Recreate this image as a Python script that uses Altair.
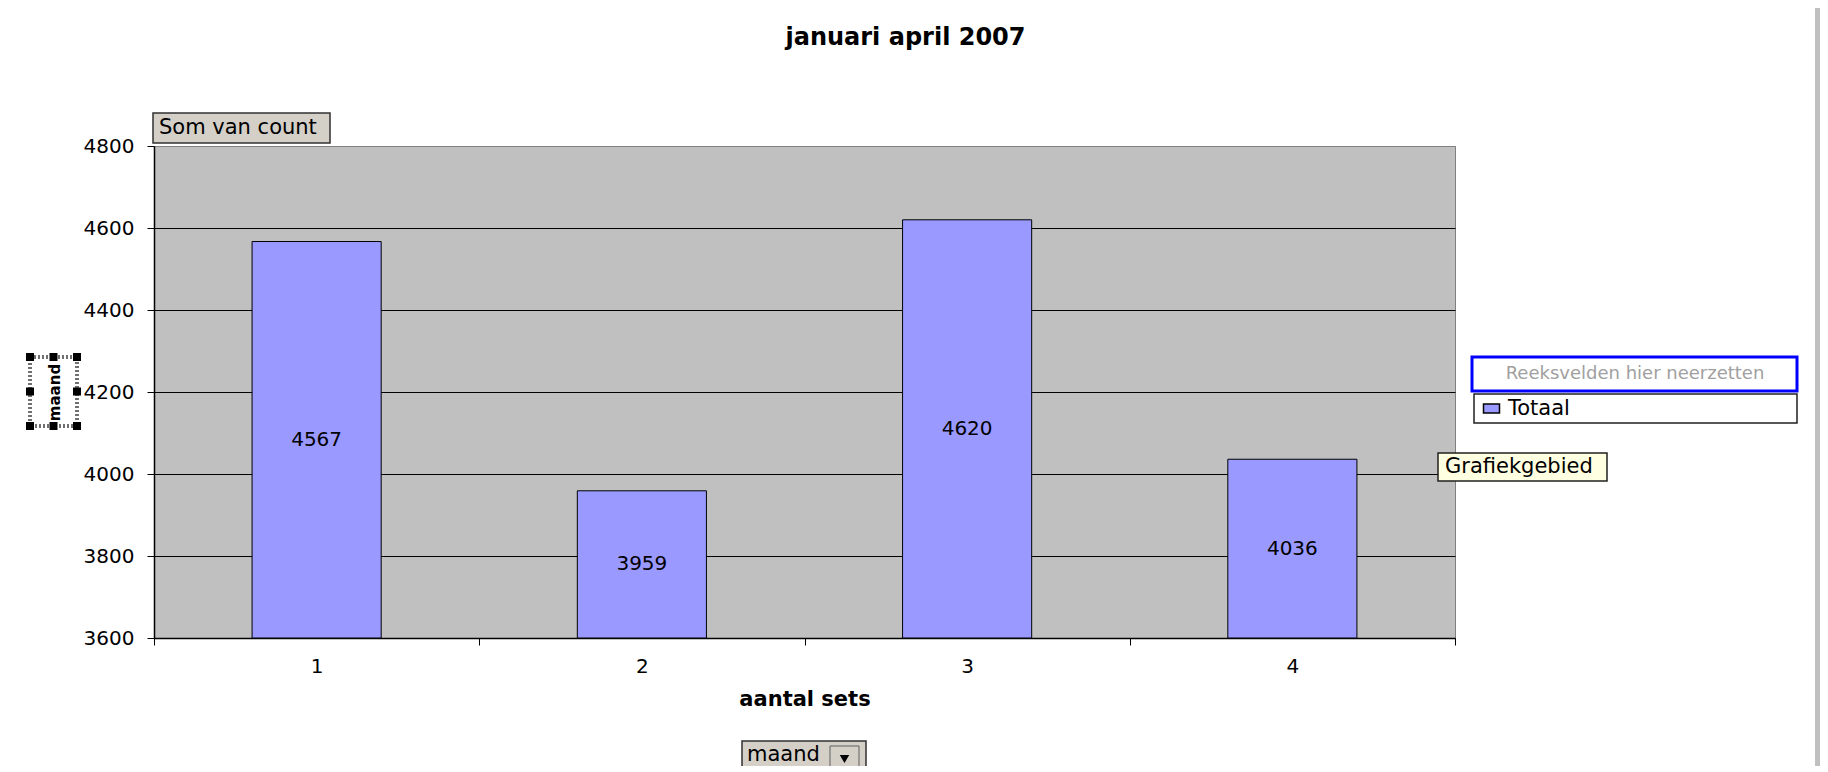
import altair as alt
import pandas as pd

# ---- data ----
categories = ["1", "2", "3", "4"]
counts = [4567, 3959, 4620, 4036]
series_name = ["Totaal", "Totaal", "Totaal", "Totaal"]
y_ticks = [3600, 3800, 4000, 4200, 4400, 4600, 4800]
y_base = 3600
y_top = 4800

title_text = "januari april 2007"
x_title = "aantal sets"
y_title = "maand"
data_button_text = "Som van count"
series_drop_text = "Reeksvelden hier neerzetten"
tooltip_text = "Grafiekgebied"
dropdown_text = "maand"

df = pd.DataFrame({"aantal sets": categories, "count": counts, "reeks": series_name})
one = pd.DataFrame({"k": [0]})

FONT = "DejaVu Sans"
BAR = "#9999FF"
W, H = 1301, 492

x_scale = alt.Scale(paddingInner=0, paddingOuter=0)
x_axis = alt.Axis(labelAngle=0, tickBand="extent", grid=False, tickSize=7,
                  labelPadding=11, labelFontSize=20, labelFont=FONT,
                  titleFont=FONT, titleFontSize=21, titleFontWeight="bold",
                  titleY=61, titleBaseline="middle")
y_scale = alt.Scale(domain=[y_base, y_top], zero=False, nice=False)
y_axis = alt.Axis(values=y_ticks, format="d", grid=True,
                  gridColor={"condition": {"test": "datum.value === 4800", "value": "#808080"},
                             "value": "black"},
                  gridWidth=1, tickSize=7, labelPadding=13, labelFontSize=20,
                  labelFont=FONT, title=y_title, titleFont=FONT, titleFontSize=15,
                  titleFontWeight="bold", titleAngle=270, titleX=-100, titleY=246,
                  titleAlign="center", titleBaseline="middle")

bars = alt.Chart(df).mark_bar(stroke="black", strokeWidth=1,
                              width=alt.RelativeBandSize(0.397)).encode(
    x=alt.X("aantal sets:N", title=x_title, sort=categories, scale=x_scale, axis=x_axis),
    y=alt.Y("count:Q", scale=y_scale, axis=y_axis),
    y2=alt.datum(y_base),
    color=alt.Color("reeks:N", scale=alt.Scale(range=[BAR]),
                    legend=alt.Legend(title=None, orient="none", legendX=1327, legendY=252,
                                      symbolType="M-1,-0.55H1V0.55H-1Z", symbolSize=256,
                                      symbolStrokeColor="black", symbolStrokeWidth=1.5,
                                      labelFont=FONT, labelFontSize=21, labelOffset=6,
                                      labelColor="black", padding=0)),
)

labels = alt.Chart(df).transform_calculate(
    mid=f"(datum.count + {y_base}) / 2"
).mark_text(font=FONT, fontSize=20, color="black", align="center", baseline="middle").encode(
    x=alt.X("aantal sets:N", title=x_title, sort=categories, scale=x_scale, axis=x_axis),
    y=alt.Y("mid:Q", scale=y_scale, axis=y_axis),
    text=alt.Text("count:Q", format="d"),
)


def box(x, x2, y, y2, fill, stroke=None, sw=1, dash=None):
    kw = dict(fill=fill, strokeWidth=sw)
    if stroke:
        kw["stroke"] = stroke
    if dash:
        kw["strokeDash"] = dash
    return alt.Chart(one).mark_rect(**kw).encode(
        x=alt.value(x), x2=alt.value(x2), y=alt.value(y), y2=alt.value(y2))


def label(x, y, t, size, color="black", align="left", weight="normal"):
    return alt.Chart(one).mark_text(text=t, font=FONT, fontSize=size, color=color,
                                    align=align, baseline="middle",
                                    fontWeight=weight).encode(x=alt.value(x), y=alt.value(y))


decor = [
    # window edge strip on the right
    box(1661, 1666, -138, 620, "#C0C0C0"),
    # "Som van count" pivot button
    box(-1, 176, -33, -3, "#D4D0C8", "#303030", 1.5),
    label(5, -18, data_button_text, 21),
    # selected axis-title frame around "maand"
    box(-124, -77, 211, 280, "none", "#707070", 4, [2, 2]),
    # series drop zone
    box(1318, 1643, 211, 245, "white", "#0000FF", 3),
    label(1481, 228, series_drop_text, 18, color="#A0A0A0", align="center"),
    # legend frame
    box(1320, 1643, 248, 277, "white", "#202020", 1.5),
    # tooltip
    box(1284, 1453, 307, 335, "#FFFFE1", "#202020", 1.5),
    label(1291, 321, tooltip_text, 21),
    # dropdown button
    box(588, 712, 595, 630, "#D4D0C8", "#303030", 1.5),
    label(593, 609, dropdown_text, 21),
    box(676, 705, 600, 624, "#D4D0C8", "#606060", 1),
    alt.Chart(one).mark_point(shape="triangle-down", filled=True, color="black", size=90,
                              opacity=1).encode(x=alt.value(690.5), y=alt.value(613)),
]
# selection handles
for hx in (-124, -100.5, -77):
    for hy in (211, 245.5, 280):
        if hx == -100.5 and hy == 245.5:
            continue
        decor.append(box(hx - 4, hx + 4, hy - 4, hy + 4, "black"))

chart = alt.layer(bars, labels, *decor).properties(
    width=W, height=H,
    title=alt.TitleParams(title_text, font=FONT, fontSize=24, fontWeight="bold",
                          anchor="middle", frame="group", dx=101, offset=-42,
                          color="black"),
    autosize=alt.AutoSizeParams(type="none"),
    padding={"left": 146, "top": 138, "right": 365, "bottom": 128},
    background="white",
).configure_view(fill="#C0C0C0", stroke="#808080", strokeWidth=1).configure_axis(
    domainColor="black", tickColor="black", labelColor="black", titleColor="black",
    domainWidth=1.5,
)

chart.save("out.html", embed_options={"renderer": "svg", "actions": False})
